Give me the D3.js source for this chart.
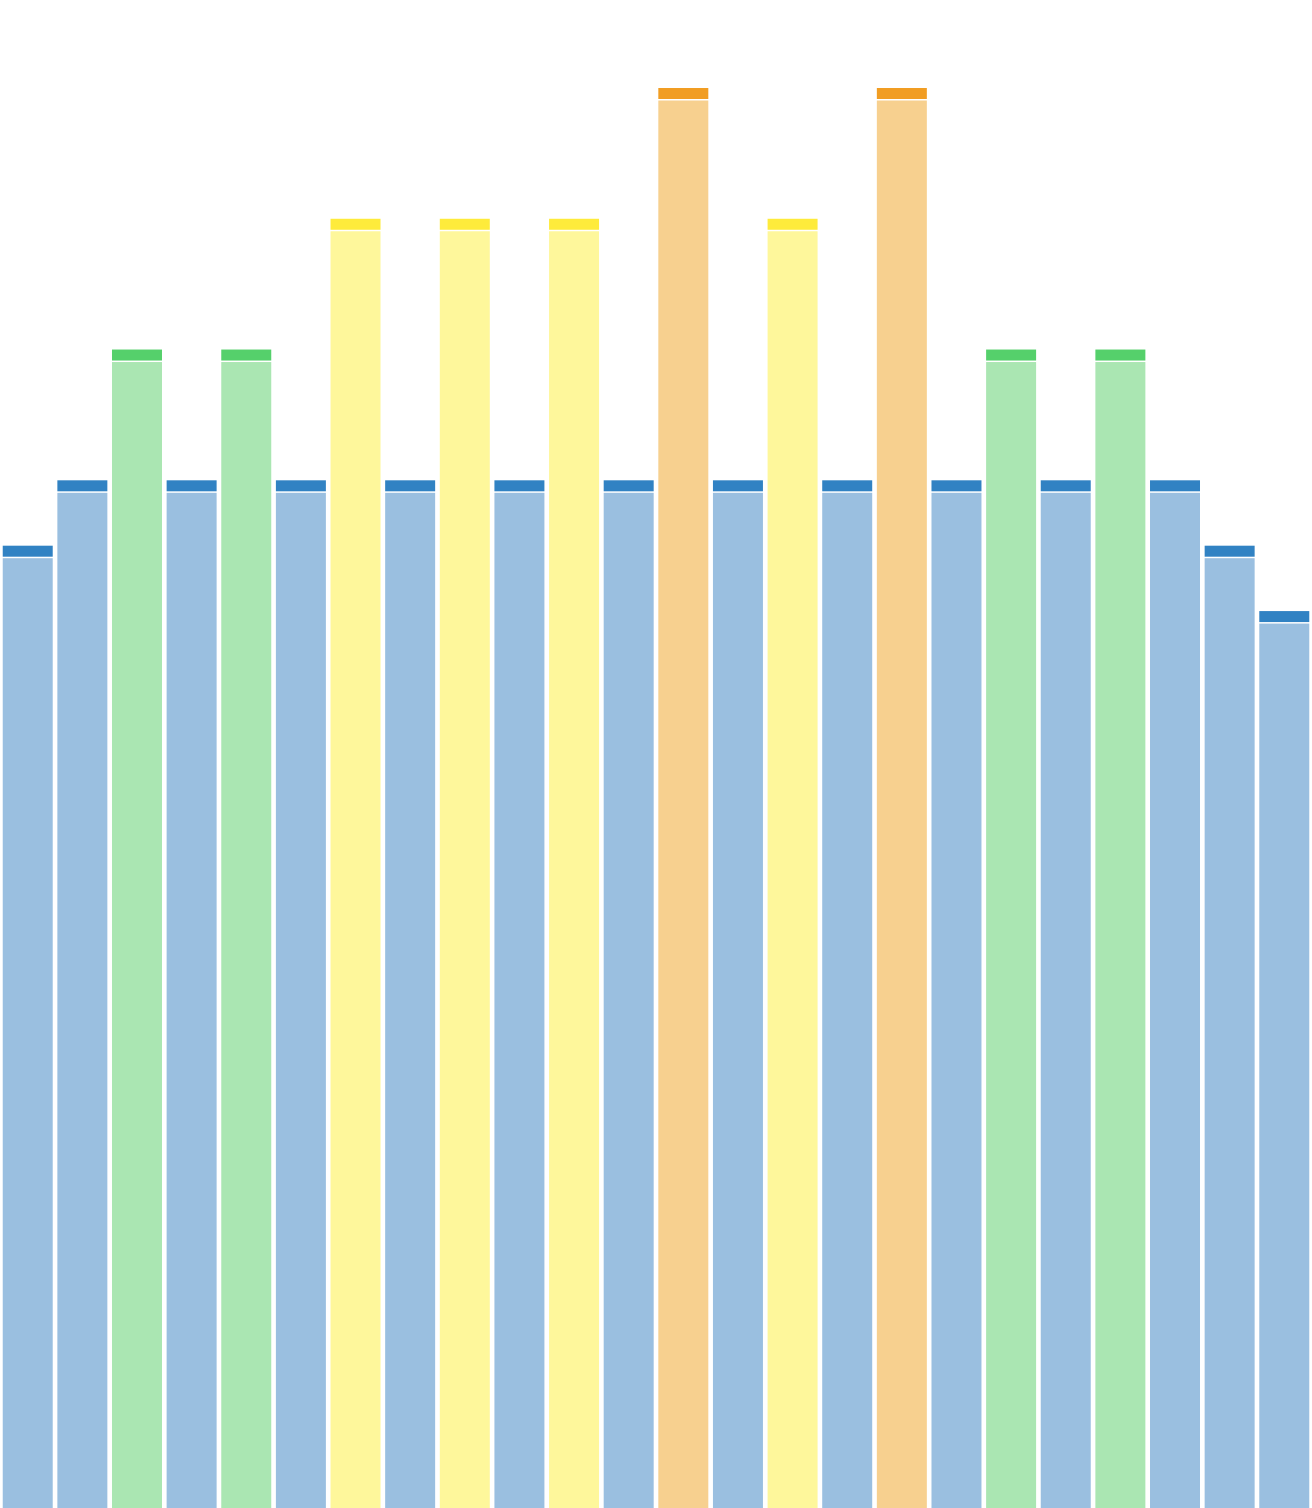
<!DOCTYPE html>
<html>
<head>
<meta charset="utf-8">
<script src="https://cdn.jsdelivr.net/npm/d3@7"></script>
<style>
  html, body { margin: 0; padding: 0; background: #fff; overflow: hidden; }
  svg { display: block; }
</style>
</head>
<body>
<svg width="1312" height="1508"></svg>
<script>
// one bar per slot, value = height of the bar top, group picks the colour
const slots = d3.range(1, 25);
const values = [7.5, 8, 9, 8, 9, 8, 10, 8, 10, 8, 10, 8, 11, 8, 10, 8, 11, 8, 9, 8, 9, 8, 7.5, 7];
const groups = ["blue", "blue", "green", "blue", "green", "blue", "yellow", "blue", "yellow", "blue",
  "yellow", "blue", "orange", "blue", "yellow", "blue", "orange", "blue", "green", "blue",
  "green", "blue", "blue", "blue"];

const groupNames = ["blue", "green", "yellow", "orange"];
const lightColors = ["#9abfe0", "#aae6b2", "#fef79b", "#f7d08f"];
const capColors = ["#3182c3", "#55d06b", "#feeb3b", "#f19d23"];

const svg = d3.select("svg");
const width = +svg.attr("width");

const data = slots.map((s, i) => ({slot: s, value: values[i], group: groups[i]}));

const capH = 11;
const capGap = 1.5;
const marginTop = 88;
const unit = 130.77;

const xScale = d3.scaleBand()
  .domain(slots)
  .range([0, width])
  .paddingInner(0.085)
  .paddingOuter(0.05);

const yScale = d3.scaleLinear()
  .domain([0, d3.max(values)])
  .range([marginTop + d3.max(values) * unit, marginTop]);

const light = d3.scaleOrdinal().domain(groupNames).range(lightColors);
const cap = d3.scaleOrdinal().domain(groupNames).range(capColors);

const bars = svg.selectAll("g.bar").data(data)
  .enter().append("g")
    .attr("class", "bar");

bars.append("rect")
  .attr("x", d => xScale(d.slot))
  .attr("y", d => yScale(d.value) + capH + capGap)
  .attr("width", xScale.bandwidth())
  .attr("height", d => yScale(0) - yScale(d.value) - capH - capGap)
  .attr("fill", d => light(d.group));

bars.append("rect")
  .attr("x", d => xScale(d.slot))
  .attr("y", d => yScale(d.value))
  .attr("width", xScale.bandwidth())
  .attr("height", capH)
  .attr("fill", d => cap(d.group));
</script>
</body>
</html>
